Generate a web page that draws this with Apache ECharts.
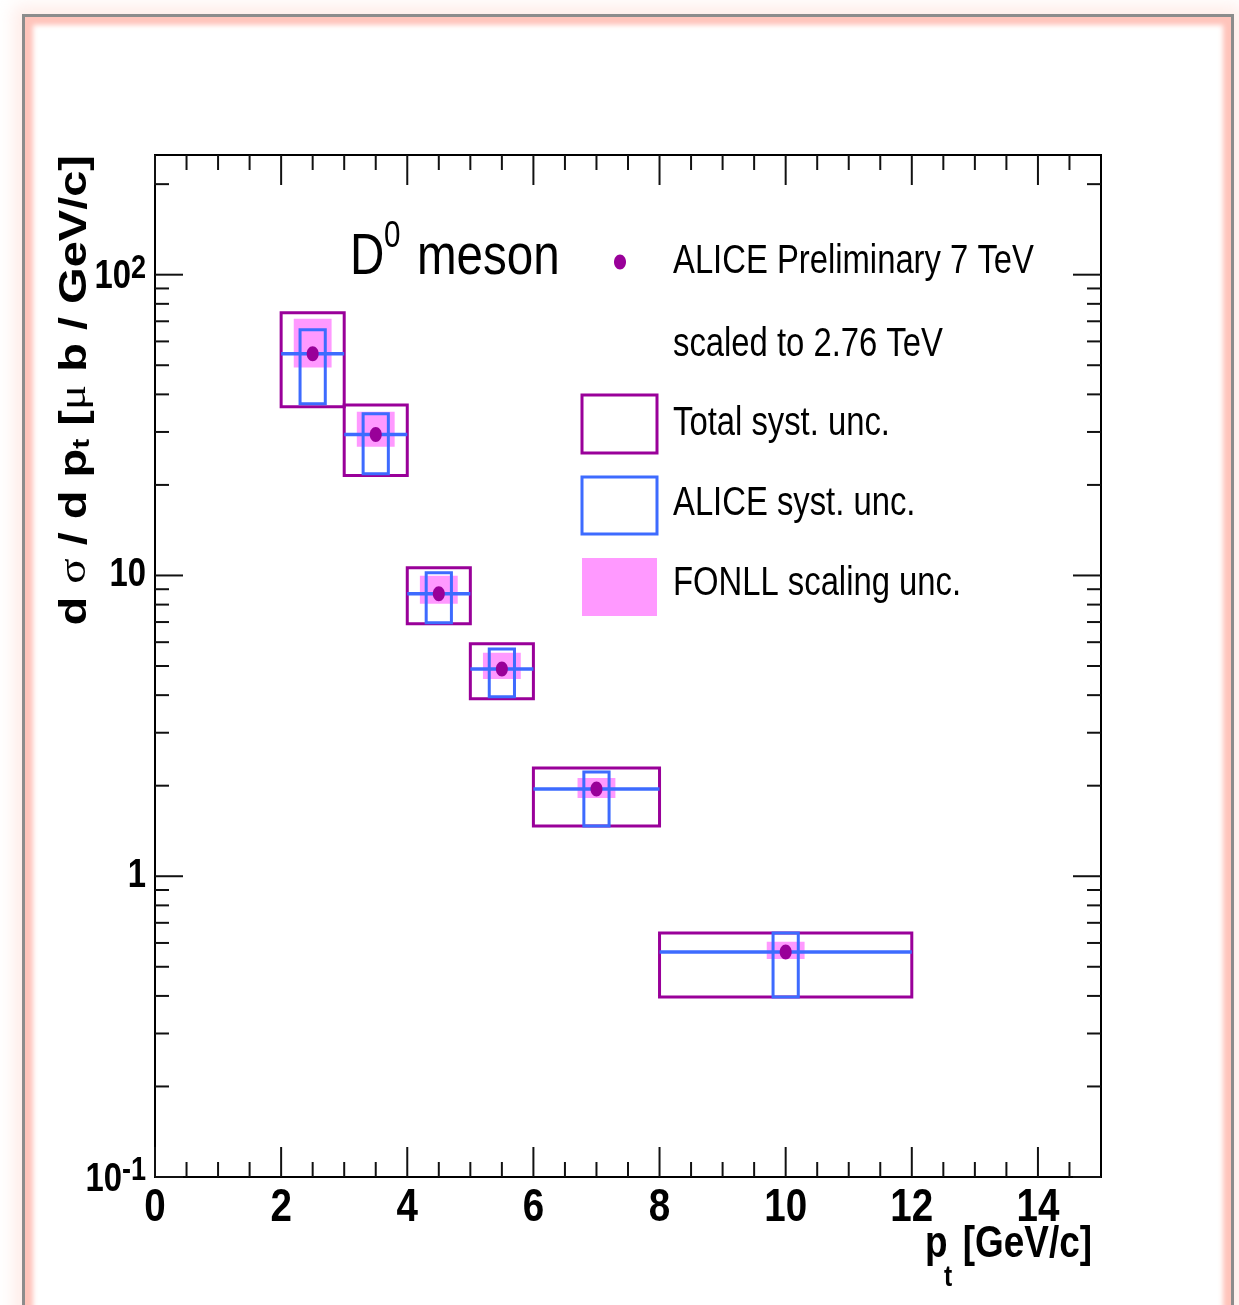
<!DOCTYPE html>
<html>
<head>
<meta charset="utf-8">
<script src="https://cdn.jsdelivr.net/npm/echarts@6/dist/echarts.min.js"></script>
<style>
html,body{margin:0;padding:0;background:#fff;overflow:hidden;width:1239px;height:1305px;}
#frame{position:absolute;left:22px;top:14px;width:1206px;height:1340px;border:3px solid #8c8c8c;
  box-shadow:0 0 16px 8px rgba(255,200,190,0.35), inset 0 0 5px 8px rgba(255,190,180,0.9);}
#chart{position:absolute;left:0;top:0;width:1239px;height:1305px;}
</style>
</head>
<body>
<div id="frame"></div>
<div id="chart"></div>
<script>
// ---------------- data ----------------
const binLow    = [2, 3, 4, 5, 6, 8];
const binHigh   = [3, 4, 5, 6, 8, 12];
const ptCenter  = [2.5, 3.5, 4.5, 5.5, 7, 10];
const yValue    = [54.6, 29.4, 8.69, 4.89, 1.95, 0.560];
const totalLow  = [36.4, 21.5, 6.91, 3.89, 1.47, 0.397];
const totalHigh = [74.7, 36.9, 10.6, 5.93, 2.29, 0.648];
const aliceLow  = [37.2, 21.8, 6.96, 3.95, 1.47, 0.397];
const aliceHigh = [65.6, 34.5, 10.2, 5.70, 2.22, 0.648];
const fonllLow  = [49.1, 26.8, 8.05, 4.53, 1.82, 0.531];
const fonllHigh = [71.4, 35.0, 9.97, 5.53, 2.12, 0.605];
const aliceHalfWidth = 0.2;   // pt units
const fonllHalfWidth = 0.3;   // pt units

const xTickValues = [0, 2, 4, 6, 8, 10, 12, 14];
const xTickLabels = ['0', '2', '4', '6', '8', '10', '12', '14'];
const xMinorTicks = [0.5, 1, 1.5, 2.5, 3, 3.5, 4.5, 5, 5.5, 6.5, 7, 7.5, 8.5, 9, 9.5,
                     10.5, 11, 11.5, 12.5, 13, 13.5, 14.5];
const yTickValues = [0.1, 1, 10, 100];
const yTickLabels = ['{b|10}{sup|-1}', '1', '10', '{b|10}{sup|2}'];
const yMinorTicks = [0.2, 0.3, 0.4, 0.5, 0.6, 0.7, 0.8, 0.9,
                     2, 3, 4, 5, 6, 7, 8, 9,
                     20, 30, 40, 50, 60, 70, 80, 90, 200];

const legendTexts = ['ALICE Preliminary 7 TeV', 'scaled to 2.76 TeV',
                     'Total syst. unc.', 'ALICE syst. unc.', 'FONLL scaling unc.'];

// ---------------- style ----------------
const FONT = "'Liberation Sans',Arial,sans-serif";
const SX = 0.82;   // narrow (condensed) text look
const PURPLE = '#990099', BLUE = '#3d6bff', PINK = '#ff99ff';

const chart = echarts.init(document.getElementById('chart'), null, {renderer: 'canvas'});

const boxData = binLow.map((_, i) => [binLow[i], binHigh[i], ptCenter[i], yValue[i],
  totalLow[i], totalHigh[i], aliceLow[i], aliceHigh[i], fonllLow[i], fonllHigh[i]]);

function rectOf(api, x0, x1, y0, y1) {
  const a = api.coord([x0, y1]);
  const b = api.coord([x1, y0]);
  return {x: a[0], y: a[1], width: b[0] - a[0], height: b[1] - a[1]};
}

const xTickData = xTickValues.map(v => [v, 1, 1]).concat(xMinorTicks.map(v => [v, 1, 0]));
const yTickData = yTickValues.map(v => [0, v, 1]).concat(yMinorTicks.map(v => [0, v, 0]));
const xLabelData = xTickValues.map(v => [v, 1]);
const yLabelData = yTickValues.map(v => [0, v]);
const TICK_STYLE = {stroke: '#111', lineWidth: 2};

function ntext(x, y, text, size) {
  return {type: 'text', x: x, y: y, scaleX: SX,
    style: {text: text, font: size + 'px ' + FONT, fill: '#000', verticalAlign: 'middle'}};
}

const option = {
  animation: false,
  backgroundColor: 'transparent',
  grid: {left: 155, top: 155, width: 946, height: 1022, show: true,
         borderColor: '#000', borderWidth: 2, backgroundColor: 'transparent',
         outerBoundsMode: 'none'},
  xAxis: {
    type: 'value', min: 0, max: 15,
    axisLine: {show: false}, axisTick: {show: false}, splitLine: {show: false},
    axisLabel: {show: false}
  },
  yAxis: {
    type: 'log', logBase: 10, min: 0.1, max: 250,
    axisLine: {show: false}, axisTick: {show: false}, splitLine: {show: false},
    axisLabel: {show: false}
  },
  series: [
    {
      type: 'custom', name: 'xticks', silent: true, data: xTickData, z: 10,
      renderItem: (params, api) => {
        const cs = params.coordSys;
        const x = api.coord([api.value(0), 1])[0];
        const len = api.value(2) ? 30 : 15;
        const yb = cs.y + cs.height, yt = cs.y;
        return {type: 'group', children: [
          {type: 'line', shape: {x1: x, y1: yb, x2: x, y2: yb - len}, style: TICK_STYLE},
          {type: 'line', shape: {x1: x, y1: yt, x2: x, y2: yt + len}, style: TICK_STYLE}
        ]};
      }
    },
    {
      type: 'custom', name: 'yticks', silent: true, data: yTickData, z: 10,
      renderItem: (params, api) => {
        const cs = params.coordSys;
        const y = api.coord([0, api.value(1)])[1];
        const len = api.value(2) ? 28 : 14;
        const xl = cs.x, xr = cs.x + cs.width;
        return {type: 'group', children: [
          {type: 'line', shape: {x1: xl, y1: y, x2: xl + len, y2: y}, style: TICK_STYLE},
          {type: 'line', shape: {x1: xr, y1: y, x2: xr - len, y2: y}, style: TICK_STYLE}
        ]};
      }
    },
    {
      type: 'custom', name: 'xlabels', silent: true, data: xLabelData, z: 10,
      renderItem: (params, api) => {
        const cs = params.coordSys;
        const x = api.coord([api.value(0), 1])[0];
        return {type: 'text', x: x, y: cs.y + cs.height + 31, scaleX: SX,
          style: {text: xTickLabels[params.dataIndex], font: 'bold 47px ' + FONT, fill: '#000',
                  align: 'center', verticalAlign: 'middle'}};
      }
    },
    {
      type: 'custom', name: 'ylabels', silent: true, data: yLabelData, z: 10,
      renderItem: (params, api) => {
        const cs = params.coordSys;
        const y = api.coord([0, api.value(1)])[1];
        return {type: 'text', x: cs.x - 9, y: y, scaleX: SX,
          style: {text: yTickLabels[params.dataIndex], font: 'bold 40px ' + FONT, fill: '#000',
                  align: 'right', verticalAlign: 'middle',
                  rich: {
                    b: {fontFamily: FONT, fontWeight: 'bold', fontSize: 40, fill: '#000', lineHeight: 45, verticalAlign: 'bottom'},
                    sup: {fontFamily: FONT, fontWeight: 'bold', fontSize: 33, fill: '#000', verticalAlign: 'top'}
                  }}};
      }
    },
    {
      type: 'custom', name: 'D0', silent: true, data: boxData, z: 5,
      encode: {x: [0, 1, 2], y: [3, 4, 5]},
      renderItem: (params, api) => {
        const lo = api.value(0), hi = api.value(1), xc = api.value(2), yc = api.value(3);
        const tot = rectOf(api, lo, hi, api.value(4), api.value(5));
        const ali = rectOf(api, xc - aliceHalfWidth, xc + aliceHalfWidth, api.value(6), api.value(7));
        const fon = rectOf(api, xc - fonllHalfWidth, xc + fonllHalfWidth, api.value(8), api.value(9));
        const c = api.coord([xc, yc]);
        const l = api.coord([lo, yc]);
        const r = api.coord([hi, yc]);
        return {type: 'group', children: [
          {type: 'rect', shape: tot, style: {fill: 'none', stroke: PURPLE, lineWidth: 3}},
          {type: 'rect', shape: fon, style: {fill: PINK}},
          {type: 'rect', shape: ali, style: {fill: 'none', stroke: BLUE, lineWidth: 3}},
          {type: 'line', shape: {x1: l[0], y1: c[1], x2: r[0], y2: c[1]}, style: {stroke: BLUE, lineWidth: 3.5}},
          {type: 'ellipse', shape: {cx: c[0], cy: c[1], rx: 6, ry: 7.5}, style: {fill: PURPLE}}
        ]};
      }
    }
  ],
  graphic: [
    // title
    ntext(350, 258, 'D', 58),
    ntext(384, 237, '0', 36),
    ntext(417, 258, 'meson', 58),
    // legend
    {type: 'ellipse', shape: {cx: 620, cy: 262, rx: 6, ry: 7.5}, style: {fill: PURPLE}},
    ntext(673, 262, legendTexts[0], 40),
    ntext(673, 345, legendTexts[1], 40),
    {type: 'rect', shape: {x: 582, y: 395, width: 75, height: 58}, style: {fill: 'none', stroke: PURPLE, lineWidth: 3}},
    ntext(673, 424, legendTexts[2], 40),
    {type: 'rect', shape: {x: 582, y: 477, width: 75, height: 57}, style: {fill: 'none', stroke: BLUE, lineWidth: 3}},
    ntext(673, 504, legendTexts[3], 40),
    {type: 'rect', shape: {x: 582, y: 558, width: 75, height: 58}, style: {fill: PINK}},
    ntext(673, 584, legendTexts[4], 40),
    // x axis title
    {type: 'text', x: 1092, y: 1245, scaleX: SX, style: {text: '[GeV/c]', font: 'bold 45px ' + FONT,
      fill: '#000', align: 'right', verticalAlign: 'middle'}},
    {type: 'text', x: 925, y: 1245, scaleX: SX, style: {text: 'p', font: 'bold 45px ' + FONT,
      fill: '#000', align: 'left', verticalAlign: 'middle'}},
    {type: 'text', x: 944, y: 1278, scaleX: SX, style: {text: 't', font: 'bold 30px ' + FONT,
      fill: '#000', align: 'left', verticalAlign: 'middle'}},
    // y axis title
    {type: 'text', x: 75, y: 155, rotation: Math.PI / 2, scaleY: SX, style: {
      text: '{b|d }{g|σ}{b| / d p}{s|t}{b| [}{g|μ}{b| b / GeV/c]}', align: 'right', verticalAlign: 'middle',
      rich: {
        b: {fontFamily: FONT, fontWeight: 'bold', fontSize: 47, lineHeight: 47, verticalAlign: 'top', fill: '#000'},
        g: {fontFamily: "'Liberation Serif',serif", fontSize: 47, lineHeight: 47, verticalAlign: 'top', fill: '#000'},
        s: {fontFamily: FONT, fontWeight: 'bold', fontSize: 30, lineHeight: 30, padding: [36, 0, 0, 0],
            verticalAlign: 'bottom', fill: '#000'}
      }}}
  ]
};
chart.setOption(option);
</script>
</body>
</html>
